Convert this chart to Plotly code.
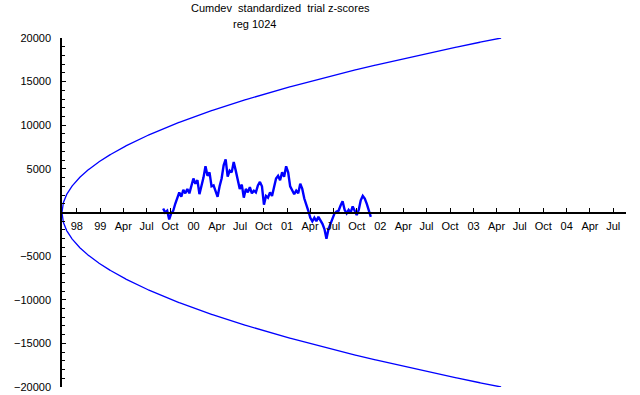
import numpy as np
import pandas as pd
import plotly.graph_objects as go

# ---- data ----
title_text = "Cumdev\u00a0\u00a0standardized\u00a0\u00a0trial z-scores"
subtitle_text = "reg 1024"

# cumulative deviation series (approx. every ~8 days)
cum_start = "1999-09-04"
cum_end = "2001-11-25"
cumdev = [450, 0, 200, -800, -100, 200, 1000, 1800, 2300, 1800,
          2600, 2200, 2700, 2200, 3100, 3900, 3300, 3700, 2100, 3000,
          4000, 5300, 4200, 4600, 3000, 3100, 2400, 1800, 3000, 3900,
          5400, 6100, 4100, 4800, 4600, 5800, 4800, 3700, 2700, 3200,
          1700, 2700, 2300, 2900, 2200, 2500, 2300, 3100, 3500, 3000,
          900, 1900, 1700, 2300, 1900, 2900, 3900, 4200, 3700, 4600,
          4100, 5300, 4600, 3000, 2500, 2100, 2500, 2200, 3300, 2700,
          1600, 1000, 200, -600, -1000, -600, -1000, -500, -900, -1300,
          -1900, -3000, -1900, -1300, -500, -100, 100, 200, 800, 1300,
          300, -100, 300, 0, 700, 100, -300, 300, 1400, 1900,
          1600, 1000, 200, -500]

# significance envelope (sqrt-shaped, reaching env_max at env_end)
env_start = "1998-08-04"
env_end = "2003-04-19"
env_max = 20000

# axes
x_range = ["1998-08-04", "2004-08-20"]
tick_dates = ["1998-10-01", "1999-01-01", "1999-04-01", "1999-07-01", "1999-10-01",
              "2000-01-01", "2000-04-01", "2000-07-01", "2000-10-01",
              "2001-01-01", "2001-04-01", "2001-07-01", "2001-10-01",
              "2002-01-01", "2002-04-01", "2002-07-01", "2002-10-01",
              "2003-01-01", "2003-04-01", "2003-07-01", "2003-10-01",
              "2004-01-01", "2004-04-01", "2004-07-01"]
tick_labels = ["98", "99", "Apr", "Jul", "Oct", "00", "Apr", "Jul", "Oct",
               "01", "Apr", "Jul", "Oct", "02", "Apr", "Jul", "Oct",
               "03", "Apr", "Jul", "Oct", "04", "Apr", "Jul"]
y_ticks = [-20000, -15000, -10000, -5000, 5000, 10000, 15000, 20000]
y_labels = ["\u221220000", "\u221215000", "\u221210000", "\u22125000",
            "5000", "10000", "15000", "20000"]

# ---- build ----
cum_dates = pd.date_range(cum_start, cum_end, periods=len(cumdev))
env_dates = pd.date_range(env_start, env_end, freq="D")
days = (env_dates - env_dates[0]).days.values.astype(float)
env = env_max * np.sqrt(days / days[-1])

blue = "#0000ff"
fig = go.Figure()
fig.add_trace(go.Scatter(x=env_dates, y=env, mode="lines",
                         line=dict(color=blue, width=1.3), hoverinfo="skip"))
fig.add_trace(go.Scatter(x=env_dates, y=-env, mode="lines",
                         line=dict(color=blue, width=1.3), hoverinfo="skip"))
fig.add_trace(go.Scatter(x=cum_dates, y=cumdev, mode="lines",
                         line=dict(color=blue, width=2.4)))

font = dict(family="Liberation Sans, Arial, sans-serif", size=11, color="black")
W, H = 640, 395
L, R, T, B = 62, 14, 38, 8
fig.update_layout(
    width=W, height=H,
    margin=dict(l=L, r=R, t=T, b=B, autoexpand=False),
    paper_bgcolor="white", plot_bgcolor="white",
    showlegend=False, font=font,
    xaxis=dict(type="date", range=x_range, anchor="free", position=0.5,
               showline=True, linecolor="black", linewidth=1.5,
               showgrid=False, zeroline=False,
               ticks="inside", ticklen=4, tickcolor="black", tickwidth=1,
               tickvals=tick_dates, ticktext=tick_labels, tickangle=0,
               ticklabelstandoff=4),
    yaxis=dict(range=[-20000, 20000], showline=True, linecolor="black",
               linewidth=1.5, showgrid=False, zeroline=False,
               ticks="inside", ticklen=4, tickcolor="black", tickwidth=1,
               tickvals=y_ticks, ticktext=y_labels,
               minor=dict(dtick=1000, ticks="inside", ticklen=3,
                          tickcolor="black", tickwidth=1, showgrid=False),
               ticklabelstandoff=7),
)
pw, ph = W - L - R, H - T - B
for text, (px, py) in [(title_text, (280, 8)), (subtitle_text, (254, 24))]:
    fig.add_annotation(text=text, x=(px - L) / pw, y=(H - B - py) / ph,
                       xref="paper", yref="paper", xanchor="center",
                       yanchor="middle", showarrow=False, font=font)

fig.write_html("out.html", config={"displayModeBar": False},
               post_script="document.body.style.margin='0';")
